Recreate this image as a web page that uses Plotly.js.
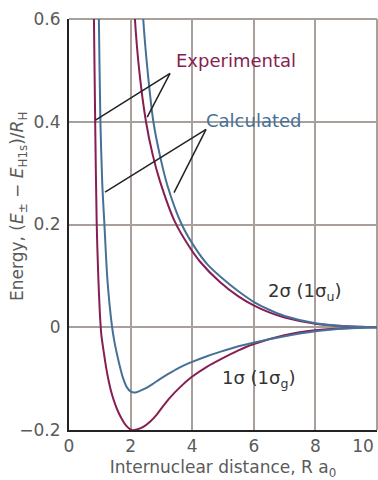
<!DOCTYPE html>
<html>
<head>
<meta charset="utf-8">
<script src="https://cdn.plot.ly/plotly-3.0.1.min.js"></script>
<style>html,body{margin:0;padding:0;background:#fff;}#chart{width:378px;height:480px;}</style>
</head>
<body>
<div id="chart"></div>
<script>
// Experimental 1σ (1σg) – bonding, lower branch
var expG_R = [0.79, 0.81, 0.85, 0.90, 0.95, 1.00, 1.05, 1.12, 1.21, 1.30, 1.40, 1.50, 1.60, 1.71, 1.85, 2.03, 2.20, 2.41, 2.63, 2.85, 3.05, 3.28, 3.60, 3.98, 4.50, 4.90, 5.50, 5.98, 6.96, 8.00, 9.00, 10.0];
var expG_E = [0.70, 0.60, 0.40, 0.20, 0.10, 0.03, -0.015, -0.045, -0.080, -0.108, -0.132, -0.150, -0.165, -0.178, -0.191, -0.200, -0.199, -0.194, -0.184, -0.170, -0.154, -0.137, -0.117, -0.097, -0.076, -0.063, -0.045, -0.033, -0.016, -0.006, -0.002, 0.0];
// Calculated 1σ (1σg)
var calcG_R = [0.95, 0.97, 1.02, 1.08, 1.15, 1.25, 1.40, 1.48, 1.55, 1.65, 1.75, 1.88, 2.02, 2.15, 2.41, 2.70, 2.95, 3.28, 3.60, 3.98, 4.50, 4.90, 5.50, 5.98, 6.96, 8.00, 9.00, 10.0];
var calcG_E = [0.70, 0.60, 0.40, 0.28, 0.20, 0.09, 0.00, -0.030, -0.050, -0.076, -0.098, -0.117, -0.126, -0.127, -0.121, -0.111, -0.101, -0.089, -0.078, -0.068, -0.056, -0.048, -0.037, -0.030, -0.018, -0.008, -0.0025, 0.0];
// Experimental 2σ (1σu) – antibonding, upper branch
var expU_R = [2.06, 2.14, 2.28, 2.50, 2.72, 2.95, 3.44, 3.87, 4.25, 4.90, 5.50, 5.98, 6.50, 7.00, 8.00, 9.00, 10.0];
var expU_E = [0.70, 0.60, 0.50, 0.40, 0.335, 0.285, 0.205, 0.160, 0.128, 0.088, 0.060, 0.043, 0.029, 0.019, 0.007, 0.002, 0.0];
// Calculated 2σ (1σu)
var calcU_R = [2.33, 2.41, 2.55, 2.74, 2.95, 3.20, 3.66, 4.09, 4.50, 5.12, 5.50, 5.98, 6.50, 7.00, 8.00, 9.00, 10.0];
var calcU_E = [0.70, 0.60, 0.50, 0.40, 0.335, 0.275, 0.200, 0.155, 0.122, 0.088, 0.070, 0.050, 0.034, 0.022, 0.008, 0.002, 0.0];

var xTicks = [0, 2, 4, 6, 8, 10];
var xTickText = ['0', '2', '4', '6', '8', '10\u2003\u2007'];
var yTicks = [-0.2, 0, 0.2, 0.4, 0.6];
var yTickText = ['\u22120.2', '0', '0.2', '0.4', '0.6'];

var maroon = 'rgb(135,30,82)';
var blue = 'rgb(70,112,152)';
var gridCol = 'rgb(170,160,155)';
var font = 'DejaVu Sans, sans-serif';
var txtCol = '#5a5a5a';

function tr(x, y, c) {
  return {x: x, y: y, type: 'scatter', mode: 'lines', line: {color: c, width: 2, shape: 'spline', smoothing: 0.8}, hoverinfo: 'skip'};
}
var data = [tr(expG_R, expG_E, maroon), tr(expU_R, expU_E, maroon), tr(calcG_R, calcG_E, blue), tr(calcU_R, calcU_E, blue)];

var lineStyle = {color: '#222', width: 1.5};
function seg(x0, y0, x1, y1) {
  return {type: 'line', xref: 'x', yref: 'y', x0: x0, y0: y0, x1: x1, y1: y1, line: lineStyle, layer: 'above'};
}

var layout = {
  width: 378, height: 480,
  margin: {l: 69, r: 1, t: 19, b: 50, pad: 0},
  paper_bgcolor: '#fff', plot_bgcolor: '#fff',
  showlegend: false,
  font: {family: font, color: txtCol, size: 17},
  xaxis: {
    range: [0, 10], tickvals: xTicks, ticktext: xTickText,
    showgrid: true, gridcolor: gridCol, gridwidth: 2,
    zeroline: false, showline: true, linecolor: '#222', linewidth: 2,
    ticks: '', ticklabeloverflow: 'allow', tickfont: {family: font, size: 17, color: txtCol},
    title: {text: 'Internuclear distance, R a<sub>0</sub>', font: {family: font, size: 17, color: txtCol}, standoff: 8},
    fixedrange: true
  },
  yaxis: {
    range: [-0.2, 0.6], tickvals: yTicks, ticktext: yTickText,
    showgrid: true, gridcolor: gridCol, gridwidth: 2,
    zeroline: false, showline: true, linecolor: '#222', linewidth: 2,
    ticks: '', ticklabelstandoff: 3, ticklabeloverflow: 'allow', tickfont: {family: font, size: 17, color: txtCol},
    fixedrange: true
  },
  shapes: [
    {type: 'line', xref: 'paper', yref: 'paper', x0: 0, x1: 1, y0: 1, y1: 1, line: {color: gridCol, width: 2}, layer: 'below'},
    {type: 'line', xref: 'paper', yref: 'paper', x0: 1, x1: 1, y0: 0, y1: 1, line: {color: gridCol, width: 2}, layer: 'below'},
    seg(3.28, 0.494, 0.86, 0.403), seg(3.28, 0.494, 2.54, 0.409),
    seg(4.45, 0.385, 1.17, 0.263), seg(4.45, 0.385, 3.41, 0.262)
  ],
  annotations: [
    {x: 5.41, y: 0.519, xref: 'x', yref: 'y', text: 'Experimental', showarrow: false, font: {family: font, size: 18, color: maroon}},
    {x: 6.02, y: 0.402, xref: 'x', yref: 'y', text: 'Calculated', showarrow: false, font: {family: font, size: 18, color: blue}},
    {x: 7.66, y: 0.069, xref: 'x', yref: 'y', text: '2\u03c3 (1\u03c3<sub>u</sub>)', showarrow: false, font: {family: font, size: 18, color: '#333'}},
    {x: 6.16, y: -0.10, xref: 'x', yref: 'y', text: '1\u03c3 (1\u03c3<sub>g</sub>)', showarrow: false, font: {family: font, size: 18, color: '#333'}},
    {x: -0.1656, y: 0.545, xref: 'paper', yref: 'paper', xanchor: 'center', yanchor: 'middle', textangle: -90, showarrow: false,
     text: 'Energy, (<i>E</i><sub>\u00b1</sub> \u2212 <i>E</i><sub>H1s</sub>)/<i>R</i><sub>H</sub>', font: {family: font, size: 17, color: txtCol}}
  ]
};

Plotly.newPlot('chart', data, layout, {displayModeBar: false, staticPlot: true});
</script>
</body>
</html>
